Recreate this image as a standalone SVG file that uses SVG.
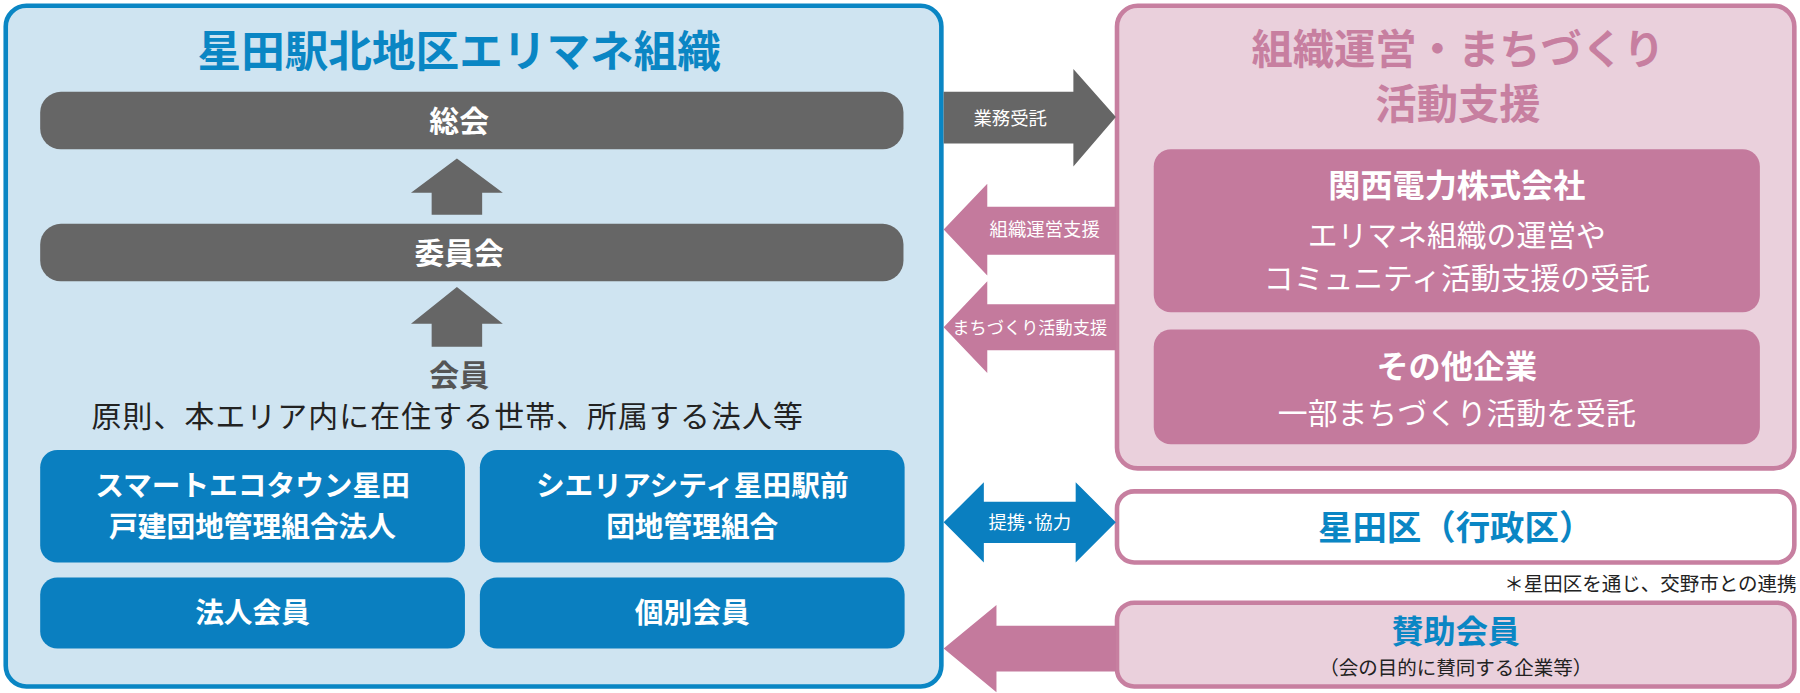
<svg xmlns="http://www.w3.org/2000/svg" width="1800" height="693" viewBox="0 0 1800 693">
<style>
text{font-family:"Noto Sans CJK JP","Noto Sans",sans-serif;text-anchor:middle}
.b{font-weight:bold}
.w{fill:#fff}
.bar{fill:#666}
.blue{fill:#0a7fc0}
.pink{fill:#c47a9d}
</style>
<rect width="1800" height="693" fill="#fff"/>
<g transform="scale(1.148)">
<g id="left-panel">
<rect x="5" y="5" width="815" height="593" rx="18" fill="#cfe4f1" stroke="#0a86c4" stroke-width="4"/>
<text x="400" y="58" font-size="38" class="b" fill="#0a86c4">星田駅北地区エリマネ組織</text>
</g>
<g id="soukai"><rect class="bar" x="35" y="80" width="752" height="50" rx="18"/><text x="400" y="115" font-size="26" class="b w">総会</text></g>
<g id="iinkai"><rect class="bar" x="35" y="195" width="752" height="50" rx="18"/><text x="400" y="230" font-size="26" class="b w">委員会</text></g>
<g id="kaiin"><text x="400" y="336" font-size="26" class="b" fill="#555">会員</text>
<text x="390" y="372" font-size="26" fill="#222" letter-spacing="1">原則、本エリア内に在住する世帯、所属する法人等</text></g>
<g id="m1"><rect class="blue" x="35" y="392" width="370" height="98" rx="15"/><text x="220" y="432" font-size="25" class="b w">スマートエコタウン星田</text><text x="220" y="468" font-size="25" class="b w">戸建団地管理組合法人</text></g>
<g id="m2"><rect class="blue" x="418" y="392" width="370" height="98" rx="15"/><text x="603" y="432" font-size="25" class="b w">シエリアシティ星田駅前</text><text x="603" y="468" font-size="25" class="b w">団地管理組合</text></g>
<g id="m3"><rect class="blue" x="35" y="503" width="370" height="62" rx="15"/><text x="220" y="543" font-size="25" class="b w">法人会員</text></g>
<g id="m4"><rect class="blue" x="418" y="503" width="370" height="62" rx="15"/><text x="603" y="543" font-size="25" class="b w">個別会員</text></g>
<g id="right-panel">
<rect x="973" y="5" width="590" height="403" rx="18" fill="#ead0dc" stroke="#c77fa0" stroke-width="4"/>
<text x="1270" y="56" font-size="36" class="b" fill="#c77fa0">組織運営・まちづくり</text>
<text x="1270" y="104" font-size="36" class="b" fill="#c77fa0">活動支援</text>
</g>
<g id="kansai"><rect class="pink" x="1005" y="130" width="528" height="142" rx="15"/>
<text x="1269" y="172" font-size="28" class="b w">関西電力株式会社</text>
<text x="1269" y="214" font-size="26" class="w">エリマネ組織の運営や</text>
<text x="1269" y="252" font-size="26" class="w">コミュニティ活動支援の受託</text></g>
<g id="other"><rect class="pink" x="1005" y="287" width="528" height="100" rx="15"/>
<text x="1269" y="329" font-size="28" class="b w">その他企業</text>
<text x="1269" y="369" font-size="26" class="w">一部まちづくり活動を受託</text></g>
<g id="hoshidaku"><rect x="973" y="428" width="590" height="62" rx="15" fill="#fff" stroke="#c77fa0" stroke-width="4"/>
<text x="1268" y="470" font-size="30" class="b" fill="#0a86c4">星田区（行政区）</text></g>
<text x="1565" y="515" font-size="17" fill="#222" style="text-anchor:end">＊星田区を通じ、交野市との連携</text>
<g id="sanjo"><rect x="973" y="525" width="590" height="73" rx="15" fill="#ead0dc" stroke="#c77fa0" stroke-width="4"/>
<text x="1268" y="560" font-size="28" class="b" fill="#0a86c4">賛助会員</text>
<text x="1268" y="588" font-size="17" fill="#222">（会の目的に賛同する企業等）</text></g>
<g id="connectors">
<polygon class="bar" points="398,138 438,168 420,168 420,187 376,187 376,168 358,168"/>
<polygon class="bar" points="398,250 438,282 420,282 420,302 376,302 376,282 358,282"/>
<polygon class="bar" points="822,80 935,80 935,60 972,102 935,145 935,125 822,125"/>
<text x="880" y="109" font-size="16" class="w">業務受託</text>
<polygon class="pink" points="822,200 860,160 860,180 972,180 972,222 860,222 860,240"/>
<text x="910" y="206" font-size="16" class="w">組織運営支援</text>
<polygon class="pink" points="822,285 860,245 860,265 972,265 972,305 860,305 860,325"/>
<text x="897" y="291" font-size="15" class="w">まちづくり活動支援</text>
<polygon class="blue" points="822,455 857,420 857,437 937,437 937,420 972,455 937,490 937,473 857,473 857,490"/>
<text x="897" y="461" font-size="16" class="w">提携･協力</text>
<polygon class="pink" points="822,565 868,527 868,545 972,545 972,585 868,585 868,603"/>
</g>
</g>
</svg>
